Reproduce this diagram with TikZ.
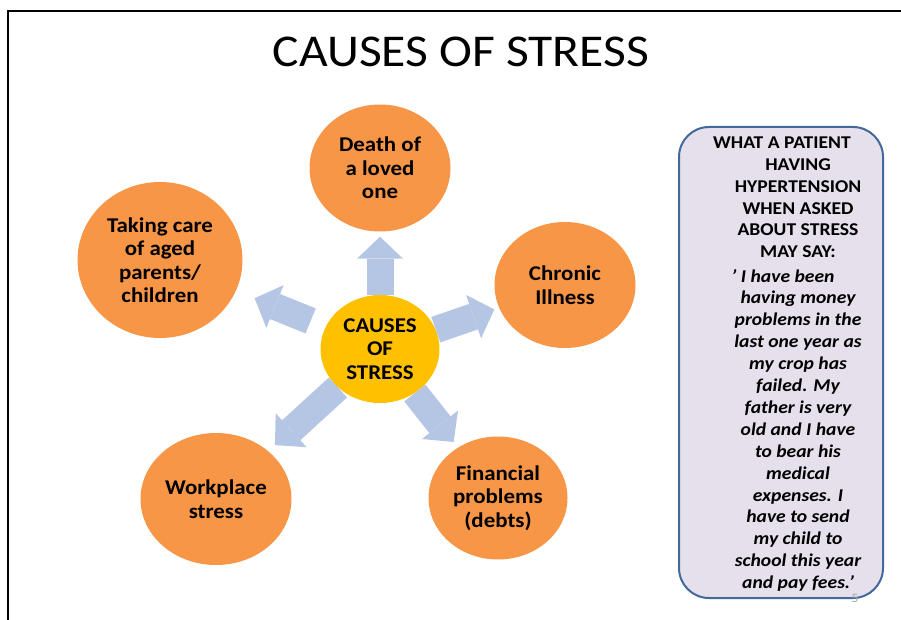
\documentclass[tikz,border=0pt]{standalone}
\usepackage{fontspec}
\setmainfont{Carlito}[FakeStretch=1.09]
\usepackage{tikz}
\usetikzlibrary{shapes.geometric,arrows.meta}
\definecolor{causeorange}{RGB}{247,150,70}
\definecolor{hubgold}{RGB}{255,192,0}
\definecolor{spokeblue}{RGB}{180,198,228}
\definecolor{quotelilac}{RGB}{230,224,236}
\definecolor{quoteedge}{RGB}{65,105,155}
\definecolor{pagegrey}{RGB}{165,165,165}
\tikzset{
    cause/.style={
        ellipse,
        fill=causeorange,
        inner sep=0pt,
        align=center,
        font=\fontsize{21}{23.5}\selectfont\bfseries
    },
    hub/.style={
        ellipse,
        fill=hubgold,
        inner sep=0pt,
        align=center,
        minimum width=119pt,
        minimum height=108pt,
        font=\fontsize{21}{23.5}\selectfont\bfseries
    },
    spoke/.style={
        draw=spokeblue,
        line width=27pt,
        -{Triangle[length=22pt,width=46pt,line width=0pt]}
    },
    quotebox/.style={
        draw=quoteedge,
        line width=2pt,
        fill=quotelilac,
        rounded corners=30pt,
        minimum width=204pt,
        minimum height=471pt
    },
    headline/.style={
        anchor=base,
        inner sep=0pt,
        font=\fontsize{18}{21.7}\selectfont\bfseries
    },
    saying/.style={
        anchor=base,
        inner sep=0pt,
        font=\fontsize{18}{21.9}\selectfont\bfseries\itshape
    }
}

\begin{document}
\begin{tikzpicture}[x=1pt,y=-1pt]

\useasboundingbox (0,0) rectangle (901,620);

% Slide frame
\draw[line width=2pt] (8,620) -- (8,11) -- (901,11);

% Title
\node[anchor=base, font=\fontsize{45.5}{50}\selectfont] (title) at (461,67) {CAUSES OF STRESS};

% Centre and causes
\node[hub] (hub) at (380,349) {CAUSES\\OF\\STRESS};
\node[cause, minimum width=141pt, minimum height=127pt] (death) at (380,168) {Death of\\a loved\\one};
\node[cause, minimum width=141pt, minimum height=126pt] (chronic) at (565,285) {Chronic\\Illness};
\node[cause, minimum width=139pt, minimum height=123pt] (debts) at (498,498) {Financial\\problems\\(debts)};
\node[cause, minimum width=151pt, minimum height=132pt] (workplace) at (216,499) {Workplace\\stress};
\node[cause, minimum width=165pt, minimum height=156pt] (carers) at (160,260) {Taking care\\of aged\\parents/\\children};

% Block arrows
\draw[spoke, shorten >=5pt] (hub) -- (death);
\draw[spoke, shorten >=5pt] (hub) -- (chronic);
\draw[spoke, shorten >=7pt] (hub) -- (debts);
\draw[spoke, shorten >=9pt] (hub) -- (workplace);
\draw[spoke, shorten <=16pt, shorten >=20pt] (hub) -- (carers);

% Patient box
\node[quotebox] (quote) at (781,362.5) {};

\node[headline] (head0) at (782,149) {WHAT A PATIENT};
\foreach \txt [count=\i] in {HAVING, HYPERTENSION, WHEN ASKED, ABOUT STRESS, MAY SAY:}
    \node[headline] (head\i) at (798,149+21.7*\i) {\txt};

\node[saying] (say0) at (783,282) {' I have been};
\foreach \txt [count=\i] in {having money, problems in the, last one year as, my crop has, failed. My, father is very, old and I have, to bear his, medical, expenses. I, have to send, my child to, school this year, and pay fees.'}
    \node[saying] (say\i) at (798,282+21.9*\i) {\txt};

% Page number
\node[text=pagegrey, font=\fontsize{13}{15}\selectfont] (pagenum) at (855,598) {5};

\end{tikzpicture}
\end{document}
